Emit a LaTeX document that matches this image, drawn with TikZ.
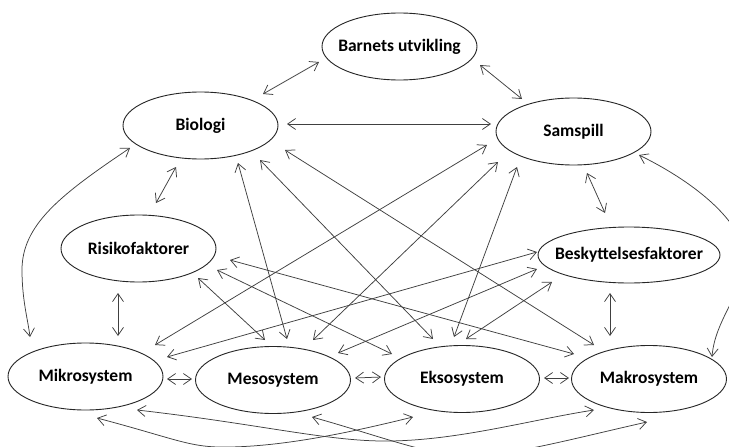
\documentclass[tikz,border=0pt]{standalone}
\usepackage{fontspec}
\setmainfont{Carlito}
\usetikzlibrary{arrows.meta,shapes.geometric,calc}
\begin{document}
\begin{tikzpicture}[x=1pt,y=-1pt,
  ell/.style={draw=black!85, line width=0.9pt, ellipse, minimum width=155pt, minimum height=67pt, inner sep=0pt, font=\fontsize{17.5}{20}\selectfont\bfseries},
  con/.style={draw=black!75, line width=0.75pt, {Straight Barb[length=8pt,width=11pt]}-{Straight Barb[length=8pt,width=11pt]}}]
\useasboundingbox (0,0) rectangle (729,447);
\fill[white] (0,0) rectangle (729,447);
\clip (0,0) rectangle (729,447);

\node[ell] (barn) at (399.5,46.5) {\makebox[0pt]{Barnets utvikling}};
\node[ell] (bio) at (200.5,125.5) {\makebox[0pt]{Biologi}};
\node[ell] (sam) at (573.5,131.5) {\makebox[0pt]{Samspill}};
\node[ell] (risk) at (138.5,248.5) {\makebox[0pt]{Risikofaktorer}};
\node[ell, minimum width=182pt, minimum height=56pt] (besk) at (629,255) {\makebox[0pt]{Beskyttelsesfaktorer}};
\node[ell] (mikro) at (85.5,376.5) {\makebox[0pt]{Mikrosystem}};
\node[ell] (meso) at (273,380) {\makebox[0pt]{Mesosystem}};
\node[ell] (ekso) at (462,379) {\makebox[0pt]{Eksosystem}};
\node[ell] (makro) at (649,379) {\makebox[0pt]{Makrosystem}};

% top and neighbour connections
\draw[con] ($(barn)+(-80.5,15.5)$) -- ($(bio)+(62.5,-31.5)$);
\draw[con] ($(barn)+(80.5,18.5)$) -- ($(sam)+(-51.5,-32.5)$);
\draw[con] ($(bio)+(86.5,-1.5)$) -- ($(sam)+(-82.5,-7.5)$);
\draw[con] ($(bio)+(-24.5,41.5)$) -- ($(risk)+(17.5,-45.5)$);
\draw[con] ($(sam)+(13.5,41.5)$) -- ($(besk)+(-24,-42)$);
\draw[con] ($(risk)+(-20.5,44.5)$) -- ($(mikro)+(32.5,-40.5)$);
\draw[con] ($(besk)+(-19,38)$) -- ($(makro)+(-39,-43)$);
\draw[con] ($(mikro)+(81.5,2.5)$) -- ($(meso)+(-81,-1)$);
\draw[con] ($(meso)+(82,-2)$) -- ($(ekso)+(-81,-2)$);
\draw[con] ($(ekso)+(82,-1)$) -- ($(makro)+(-80,-1)$);

% crossing connections
\draw[con] ($(bio)+(37.5,37.5)$) -- ($(meso)+(14,-41)$);
\draw[con] ($(bio)+(59.5,34.5)$) -- ($(ekso)+(-29,-40)$);
\draw[con] ($(bio)+(84.5,24.5)$) -- ($(makro)+(-55,-34)$);
\draw[con] ($(sam)+(-86.5,13.5)$) -- ($(mikro)+(69.5,-31.5)$);
\draw[con] ($(sam)+(-75.5,30.5)$) -- ($(meso)+(40,-40)$);
\draw[con] ($(sam)+(-56.5,35.5)$) -- ($(ekso)+(-8,-42)$);
\draw[con] ($(risk)+(91.5,11.5)$) -- ($(makro)+(-75,-25)$);
\draw[con] ($(risk)+(78.5,21.5)$) -- ($(ekso)+(-70,-25)$);
\draw[con] ($(risk)+(59.5,29.5)$) -- ($(meso)+(-8,-40)$);
\draw[con] ($(besk)+(-92,-3)$) -- ($(mikro)+(81.5,-19.5)$);
\draw[con] ($(besk)+(-92,14)$) -- ($(meso)+(65,-27)$);
\draw[con] ($(besk)+(-77,27)$) -- ($(ekso)+(4,-40)$);

% side curves
\draw[con] ($(bio)+(-70.5,22.5)$) .. controls (60,195) and (22,225) .. (22,270)
  .. controls (22,300) and (28,320) .. ($(mikro)+(-55.5,-39.5)$);
\draw[con] ($(sam)+(65.5,23.5)$) .. controls (700,185) and (745,225) .. (745,260)
  .. controls (742,295) and (715,320) .. ($(makro)+(63,-22)$);

% bottom curves
\draw[con] ($(mikro)+(11.5,41.5)$) .. controls (180,440) and (190,448) .. (230,447)
  .. controls (290,446) and (360,430) .. ($(ekso)+(-49,38)$);
\draw[con] ($(mikro)+(51.5,33.5)$) .. controls (260,424) and (330,442) .. (390,441)
  .. controls (460,440) and (530,420) .. ($(makro)+(-55,31)$);
\draw[con] ($(meso)+(39,37)$) .. controls (380,436) and (430,456) .. (470,456)
  .. controls (510,456) and (580,437) .. ($(makro)+(-2,43)$);
\end{tikzpicture}
\end{document}
